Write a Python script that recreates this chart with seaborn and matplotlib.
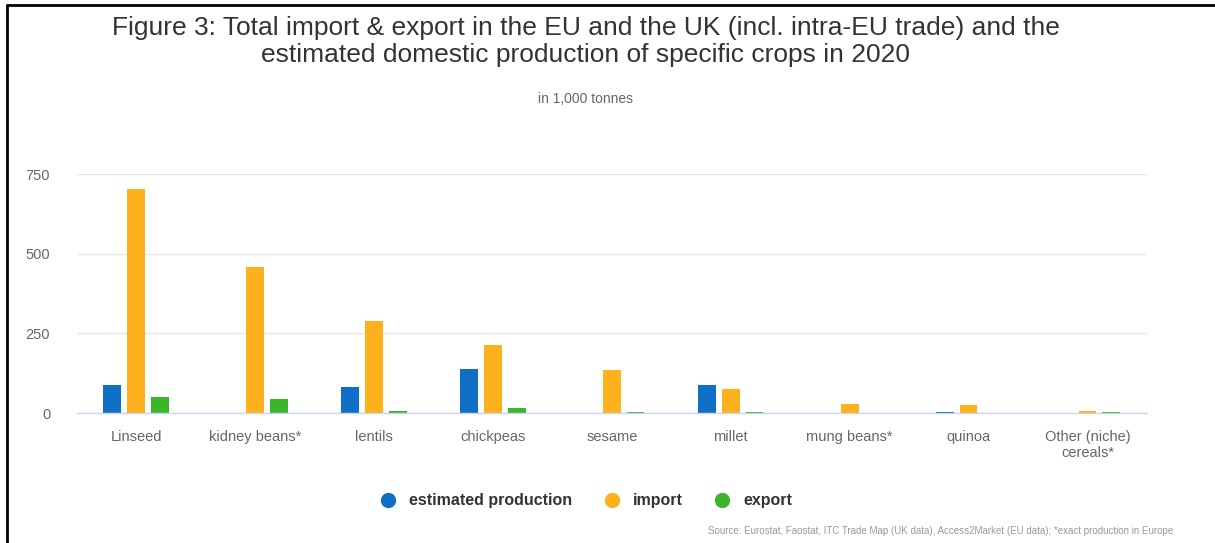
import numpy as np
import pandas as pd
import matplotlib
matplotlib.use("Agg")
import matplotlib.pyplot as plt
from matplotlib.lines import Line2D
import seaborn as sns

# Data (1,000 tonnes, 2020)
crops = ["Linseed", "kidney beans*", "lentils", "chickpeas", "sesame",
         "millet", "mung beans*", "quinoa", "Other (niche)\ncereals*"]
production = [87, np.nan, 81, 137, np.nan, 88, np.nan, 3, 0]
imports = [703, 457, 288, 213, 135, 76, 28, 25, 6]
exports = [50, 44, 7, 15, 2, 2, np.nan, 1, 4]
series_names = ["estimated production", "import", "export"]
series_colors = ["#0f6fc6", "#fdb21d", "#3bb52a"]
yticks = [0, 250, 500, 750]

df = pd.DataFrame({
    "crop": crops * 3,
    "series": np.repeat(series_names, len(crops)),
    "value": production + imports + exports,
})

sns.set_theme(style="white")
plt.rcParams["font.family"] = ["Liberation Sans", "DejaVu Sans"]

fig = plt.figure(figsize=(12.15, 5.43), dpi=100)
ax = fig.add_axes([0.063, 0.2394, 0.881, 0.4401])

sns.barplot(data=df, x="crop", y="value", hue="series", order=crops,
            hue_order=series_names, palette=series_colors, width=0.6, gap=0.25,
            ax=ax, legend=False, saturation=1, linewidth=0)

ax.set_xlim(-0.5, len(crops) - 0.5)
ax.set_ylim(0, 750)
ax.set_yticks(yticks)
ax.set_yticklabels([str(v) for v in yticks])
ax.yaxis.grid(True, color="#e6e6e6", linewidth=1)
ax.set_axisbelow(True)
for side in ["top", "right", "left"]:
    ax.spines[side].set_visible(False)
ax.spines["bottom"].set_color("#ccd6eb")
ax.spines["bottom"].set_linewidth(1)
ax.tick_params(axis="both", length=0, labelsize=10.5, labelcolor="#666666")
ax.tick_params(axis="y", pad=19)
ax.tick_params(axis="x", pad=12)
ax.set_xlabel("")
ax.set_ylabel("")

# Titles
fig.text(0.482, 0.923, "Figure 3: Total import & export in the EU and the UK (incl. intra-EU trade) and the\n"
         "estimated domestic production of specific crops in 2020",
         ha="center", va="center", fontsize=19, color="#333333", linespacing=1.15)
fig.text(0.482, 0.818, "in 1,000 tonnes", ha="center", va="center", fontsize=10, color="#666666")

# Legend
handles = [Line2D([0], [0], marker="o", linestyle="", markersize=10,
                  markerfacecolor=c, markeredgecolor=c) for c in series_colors]
leg = fig.legend(handles, series_names, loc="center", bbox_to_anchor=(0.479, 0.078),
                 ncol=3, frameon=False, handletextpad=0.3, columnspacing=1.5,
                 prop={"weight": "bold", "size": 11.5})
for t in leg.get_texts():
    t.set_color("#333333")

fig.text(0.966, 0.022, "Source: Eurostat, Faostat, ITC Trade Map (UK data), Access2Market (EU data); "
         "*exact production in Europe", ha="right", va="center", fontsize=7, color="#999999")

# Frame lines on the left and top edges
fig.add_artist(Line2D([0.006, 0.006], [0.0, 0.99], transform=fig.transFigure, color="black", linewidth=2))
fig.add_artist(Line2D([0.006, 1.0], [0.99, 0.99], transform=fig.transFigure, color="black", linewidth=2))

fig.savefig("out.png", dpi=100, facecolor="white")
